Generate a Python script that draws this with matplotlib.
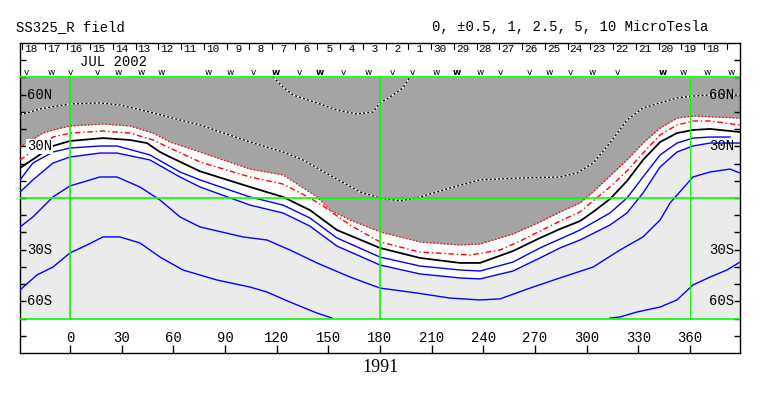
import matplotlib
matplotlib.use("Agg")
import matplotlib.pyplot as plt

# Source-surface field contours, (Carrington lon, lat) in degrees
zero_lon = [-29, -18.6, -9.9, 0, 19.2, 34.8, 44.7, 52.3, 58.1, 75.5, 104.5, 123.7, 139.3, 155.0,
            180, 203.2, 226.4, 238.0, 257.2, 272.9, 284.5, 296.1, 303.7, 313.5, 323.4, 332.7,
            342.6, 352.4, 361.7, 371.6, 389]
zero_lat = [17.4, 24.4, 30.2, 33.1, 34.8, 33.7, 31.9, 26.7, 23.8, 15.5, 6.4, 0.6, -7.0, -18.6,
            -29.0, -34.8, -37.7, -37.7, -30.8, -23.2, -18.0, -13.4, -8.1, -0.6, 9.9, 22.1,
            32.5, 37.7, 39.5, 40.1, 38.3]

pos05_lon = [-29, -9.9, 0, 19.2, 34.8, 48.2, 58.1, 75.5, 104.5, 123.7, 139.3, 146.9, 162.6, 180,
             203.2, 232.2, 249.7, 261.3, 272.9, 284.5, 296.1, 303.7, 313.5, 323.4, 332.7, 342.6,
             352.4, 361.7, 371.6, 389]
pos05_lat = [22.1, 35.4, 37.7, 38.9, 37.7, 33.7, 29.0, 20.9, 12.2, 8.1, 0, -4.6, -15.7, -25.5,
             -31.4, -33.1, -30.2, -25.0, -19.2, -13.4, -8.1, -1.7, 6.4, 15.7, 26.1, 36.6,
             42.4, 44.7, 44.7, 42.4]

pos1_lon = [-29, -15.7, -9.9, 0, 19.2, 34.8, 48.2, 58.1, 75.5, 104.5, 123.7, 143.4, 151.0, 162.6,
            180, 203.2, 226.4, 238.0, 257.2, 272.9, 284.5, 296.1, 303.7, 313.5, 323.4, 332.7,
            342.6, 352.4, 361.7, 389]
pos1_lat = [29.6, 37.7, 39.5, 41.8, 43.0, 41.8, 37.7, 32.5, 26.7, 16.8, 13.4, 0.6, -7.0, -12.8,
            -19.7, -25.5, -27.3, -26.7, -20.9, -13.9, -8.1, -2.9, 3.5, 12.8, 22.1, 31.9,
            40.6, 46.4, 47.6, 46.4]

pos25_lon = [-29, -17.4, 0, 17.4, 29.0, 46.4, 63.9, 75.5, 104.5, 123.7, 135.3, 152.7, 168.4, 180,
             191.6, 203.2, 213.1, 220.6, 238.0, 261.3, 284.5, 294.4, 303.7, 313.5, 323.4, 332.7,
             342.6, 352.4, 361.7, 371.6, 389]
pos25_lat = [48.2, 51.7, 54.6, 55.2, 54.0, 49.9, 45.3, 42.4, 32.5, 26.7, 22.1, 12.2, 3.5, 0,
             -1.7, 0.6, 3.5, 5.8, 10.5, 11.6, 12.2, 14.5, 20.3, 31.9, 45.3, 52.3,
             55.2, 58.1, 59.2, 59.8, 59.8]

pos5_lon = [117.9, 123.7, 129.5, 143.4, 155.0, 166.6, 175.9, 180, 185.8, 193.3, 197.4]
pos5_lat = [70.3, 64.4, 59.8, 55.2, 51.1, 48.8, 49.9, 55.2, 58.6, 63.9, 70.3]

neg05_lon = [-29, -21.5, -9.9, 0, 17.4, 27.3, 46.4, 63.9, 75.5, 104.5, 123.7, 139.3, 155.0, 180,
             203.2, 226.4, 238.0, 257.2, 272.9, 284.5, 296.1, 313.5, 323.4, 332.7, 342.6,
             352.4, 361.7, 371.6, 383.2]
neg05_lat = [10.5, 20.3, 26.7, 29.0, 30.2, 30.2, 25.0, 15.1, 10.5, 0.6, -4.1, -11.6, -23.2, -34.3,
             -39.5, -41.8, -42.4, -37.2, -29.0, -23.8, -18.6, -8.7, 0, 12.2, 25.0,
             31.9, 34.8, 35.4, 35.4]

neg1_lon = [-29, -21.5, -9.9, 0, 17.4, 27.3, 46.4, 63.9, 75.5, 104.5, 123.7, 139.3, 155.0, 180,
            203.2, 226.4, 238.0, 257.2, 272.9, 284.5, 296.1, 313.5, 323.4, 332.7, 342.6,
            352.4, 361.7, 371.6, 389]
neg1_lat = [3.5, 10.5, 20.3, 23.8, 26.1, 26.1, 22.1, 12.2, 6.4, -4.1, -8.7, -16.3, -27.9, -38.9,
            -44.1, -46.4, -47.0, -42.4, -34.8, -29.0, -24.4, -15.7, -8.7, 2.9, 18.0,
            26.7, 30.2, 31.9, 31.9]

neg25_lon = [-29, -21.5, -9.9, 0, 17.4, 27.3, 40.6, 52.3, 63.9, 75.5, 100.4, 114.4, 127.7, 143.4,
             162.6, 180, 201.5, 220.6, 238.0, 249.7, 267.1, 284.5, 303.7, 319.3, 332.7, 342.6,
             348.4, 361.7, 371.6, 383.2, 389]
neg25_lat = [-16.8, -11.0, 0.6, 7.0, 12.2, 12.2, 6.4, -1.2, -11.0, -16.8, -22.6, -24.4, -30.2, -37.7,
             -45.9, -52.3, -55.2, -58.1, -59.2, -58.6, -52.3, -46.4, -40.1, -30.2, -22.6, -12.8,
             -2.9, 12.2, 15.1, 16.8, 14.5]

neg5a_lon = [-29, -19.2, -9.9, 0, 9.9, 19.2, 29.0, 40.6, 52.3, 65.6, 85.3, 104.5, 114.4, 127.7,
             143.4, 152.1]
neg5a_lat = [-53.4, -44.7, -40.1, -31.9, -27.3, -22.6, -22.6, -26.1, -34.3, -41.8, -47.6, -51.7,
             -54.6, -60.4, -66.8, -69.7]
neg5b_lon = [313.5, 319.3, 329.2, 342.6, 352.4, 361.7, 371.6, 381.4, 389]
neg5b_lat = [-69.7, -69.1, -66.2, -63.3, -59.2, -50.5, -45.9, -41.8, -37.2]

# day-of-month strip along the top (days run backwards with Carrington longitude)
days = [18, 17, 16, 15, 14, 13, 12, 11, 10, 9, 8, 7, 6, 5, 4, 3, 2, 1,
        30, 29, 28, 27, 26, 25, 24, 23, 22, 21, 20, 19, 18]
day0_lon = -27.9
day_len = 13.2

# observation markers above the map
mark_lon = [-25.5, -11.0, 0, 15.7, 27.9, 41.2, 52.8, 80.1, 92.9, 106.3, 119.6, 133.5, 145.1,
            158.5, 173.0, 187.5, 199.1, 212.5, 224.7, 238.0, 249.7, 266.5, 278.1, 290.3, 303.1,
            317.6, 344.3, 355.9, 369.9, 383.8]
mark_kind = ["v", "w", "v", "v", "w", "w", "w", "w", "w", "v", "W", "v", "W",
             "v", "w", "v", "v", "w", "W", "w", "v", "v", "w", "v", "w",
             "v", "W", "w", "w", "w"]

lon_ticks = [0, 30, 60, 90, 120, 150, 180, 210, 240, 270, 300, 330, 360]
lat_ticks = [-80, -70, -60, -50, -40, -30, -20, -10, 0, 10, 20, 30, 40, 50, 60, 70, 80]
lat_labels = {60: "60N", 30: "30N", -30: "30S", -60: "60S"}

MONO = "Liberation Mono"
DARK = "#a4a4a4"
LIGHT = "#ebebeb"
GREEN = "#00ff00"

fig = plt.figure(figsize=(7.63, 3.96), dpi=100)
ax = fig.add_axes([20 / 763, 43 / 396, 720 / 763, 310 / 396])
ax.set_xlim(-29, 389)
ax.set_ylim(-90, 90)

# shading: negative light, weak field white, positive dark
ax.fill_between([-29, 389], -70, 70, color=LIGHT, lw=0, zorder=0)
ax.fill_between(neg1_lon, neg1_lat, 70, color="white", lw=0, zorder=0.5)
ax.fill_between(pos1_lon, pos1_lat, 70, color=DARK, lw=0, zorder=0.6)

# contours
ax.plot(zero_lon, zero_lat, color="black", lw=1.3, zorder=3)
ax.plot(pos05_lon, pos05_lat, color="red", lw=1.0, dashes=(4, 2, 1, 2), zorder=3)
ax.plot(pos1_lon, pos1_lat, color="red", lw=1.0, dashes=(1, 1.5), zorder=3)
for lo, la in [(pos25_lon, pos25_lat), (pos5_lon, pos5_lat)]:
    ax.plot(lo, la, color="white", lw=1.0, zorder=3)
    ax.plot(lo, la, color="black", lw=1.0, dashes=(1.5, 1.5), zorder=3)
for lo, la in [(neg05_lon, neg05_lat), (neg1_lon, neg1_lat), (neg25_lon, neg25_lat),
               (neg5a_lon, neg5a_lat), (neg5b_lon, neg5b_lat)]:
    ax.plot(lo, la, color="blue", lw=1.0, zorder=3)

# green grid lines
for la in [70, 0, -70]:
    ax.plot([-29, 389], [la, la], color=GREEN, lw=1.2, zorder=4)
for lo in [0, 180]:
    ax.plot([lo, lo], [-70, 70], color=GREEN, lw=1.2, zorder=4)
ax.plot([360, 360], [-70, 70], color=GREEN, lw=0.7, zorder=4)
ax.text(-29.5, 5.2, ">", color=GREEN, fontsize=6, family=MONO, ha="right", va="center")

# axes frame and ticks
for s in ax.spines.values():
    s.set_linewidth(1.0)
ax.set_xticks(lon_ticks)
ax.set_yticks(lat_ticks)
ax.tick_params(axis="x", direction="in", length=5.8, width=1.0, labelbottom=False)
ax.tick_params(axis="y", direction="in", length=4.3, width=1.0, left=True, right=True,
               labelleft=False)
for lo in lon_ticks:
    ax.text(lo, -81, str(lo), ha="center", va="center", fontsize=10, family=MONO)
for la, lab in lat_labels.items():
    bbox = dict(fc="white", ec="none", pad=0.5) if lab == "30N" else None
    ax.text(-25, la, lab, ha="left", va="center", fontsize=10, family=MONO, zorder=5, bbox=bbox)
    ax.text(385.5, la, lab, ha="right", va="center", fontsize=10, family=MONO, zorder=5)

# day strip
for k, d in enumerate(days):
    lo = day0_lon + k * day_len
    ax.plot([lo, lo], [90, 86.3], color="black", lw=0.8)
    ax.text(lo + 1.2, 86.5, f"{d:2d}", ha="left", va="center", fontsize=8, family=MONO)
ax.plot([day0_lon + len(days) * day_len] * 2, [90, 86.3], color="black", lw=0.8)
ax.text(5.8, 79, "JUL 2002", ha="left", va="center", fontsize=10, family=MONO)
for lo, kind in zip(mark_lon, mark_kind):
    ax.text(lo, 72.6, kind.lower(), ha="center", va="center", fontsize=6.5,
            family="DejaVu Sans", fontweight="bold" if kind == "W" else "normal")

fig.text(16 / 763, 1 - 27 / 396, "SS325_R field", ha="left", va="center", fontsize=10, family=MONO)
fig.text(432 / 763, 1 - 27 / 396, "0, \u00b10.5, 1, 2.5, 5, 10 MicroTesla", ha="left",
         va="center", fontsize=10, family=MONO)
fig.text(381 / 763, 1 - 367 / 396, "1991", ha="center", va="center", fontsize=13,
         family="Liberation Serif")

fig.savefig("out.png", dpi=100)
